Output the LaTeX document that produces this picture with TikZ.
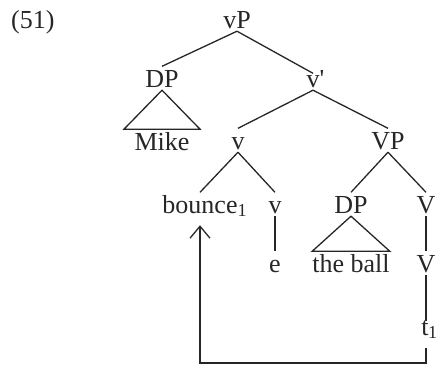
\documentclass[tikz,border=0pt]{standalone}
\usepackage{fontspec}
\setmainfont{Liberation Serif}
\usetikzlibrary{arrows.meta}
\begin{document}
\begin{tikzpicture}[x=1pt,y=-1pt,
  lbl/.style={inner xsep=0pt,inner ysep=3pt,text height=17.5pt,text depth=0pt,anchor=base,font=\fontsize{26}{30}\selectfont,text=black!85},
  edge/.style={line width=1.3pt,draw=black!85},
]
\useasboundingbox (0,0) rectangle (436,365);
\node[lbl,anchor=base west] (ex) at (11,28) {(51)};
\node[lbl] (vP) at (237,28) {vP};
\node[lbl] (DP1) at (162,87) {DP};
\node[lbl] (vbar) at (313,87) {v\rlap{\textquotesingle}};
\node[lbl,inner xsep=10.5pt] (Mike) at (162,150) {Mike};
\node[lbl] (v) at (238,149) {v};
\node[lbl] (VP) at (388,149) {VP};
\node[lbl] (bounce) at (200,213) {bounce\rlap{\textsubscript{1}}};
\node[lbl] (vlow) at (275,213) {v};
\node[lbl] (DP2) at (351,213) {DP};
\node[lbl] (Vbar) at (426,213) {V\rlap{\textquotesingle}};
\node[lbl] (e) at (275,272) {e};
\node[lbl] (ball) at (351,272) {the ball};
\node[lbl] (V) at (426,272) {V};
\node[lbl] (t) at (425,335) {t\rlap{\kern-0.5pt\textsubscript{1}}};
\coordinate (corner) at (426,363);
\draw[edge] (vP.south) -- (DP1.north);
\draw[edge] (vP.south) -- ([yshift=-7pt]vbar.north);
\draw[edge,line join=miter] (DP1.south) -- (Mike.north west) -- (Mike.north east) -- cycle;
\draw[edge] (vbar.south) -- (v.north);
\draw[edge] (vbar.south) -- (VP.north);
\draw[edge] (v.south) -- (bounce.north);
\draw[edge] (v.south) -- (vlow.north);
\draw[edge] (VP.south) -- (DP2.north);
\draw[edge] (VP.south) -- (Vbar.north);
\draw[edge] (vlow.south) -- (e.north);
\draw[edge,line join=miter] (DP2.south) -- (ball.north west) -- (ball.north east) -- cycle;
\draw[edge] (Vbar.south) -- (V.north);
\draw[edge] (V.south) -- ([yshift=-7pt]t.north -| V.south);
\draw[edge,-{Straight Barb[length=12pt,width=20pt]}] ([yshift=-10pt]t.south -| corner) -- (corner) -| ([yshift=-9pt]bounce.south);
\end{tikzpicture}
\end{document}
